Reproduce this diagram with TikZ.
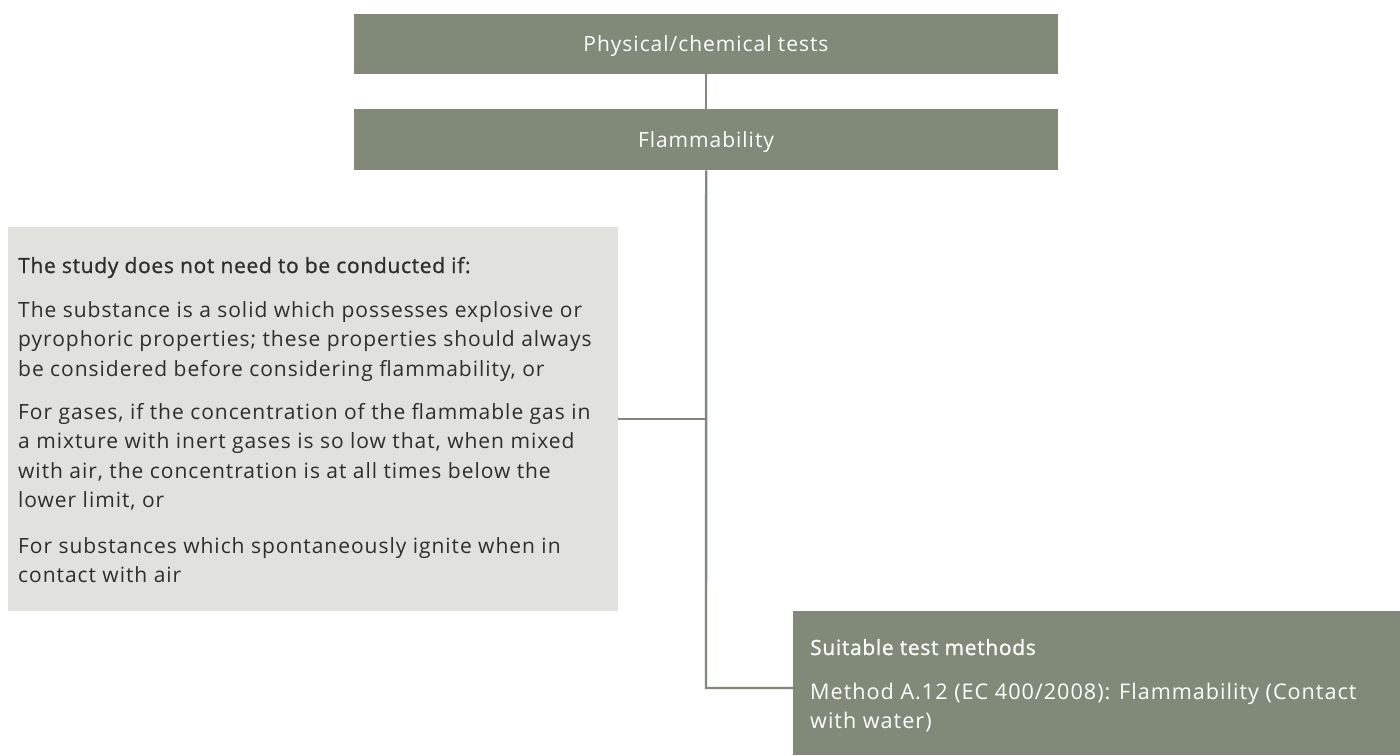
\documentclass[tikz,border=0pt]{standalone}
\usepackage{fontspec}
\setmainfont{Open Sans}[LetterSpace=4.6]
\newfontface\mediumface{Open Sans}[LetterSpace=3.2,FakeBold=1.0]
\definecolor{sage}{HTML}{818979}
\definecolor{mist}{HTML}{E1E2DE}
\definecolor{ink}{HTML}{2E2E2E}
\begin{document}
\begin{tikzpicture}[x=1pt,y=-1pt,
  darkbox/.style={fill=sage,draw=none,anchor=north west,inner sep=0pt},
  lightbox/.style={fill=mist,draw=none,anchor=north west,inner sep=0pt},
  title/.style={text=white,font=\fontsize{21}{25}\selectfont,anchor=base,inner sep=0pt},
  dline/.style={text=ink,font=\fontsize{21}{25}\selectfont,anchor=base west,inner sep=0pt},
  dhead/.style={dline,font=\fontsize{21}{25}\mediumface},
  wline/.style={dline,text=white,font=\fontsize{21.6}{26}\selectfont},
  whead/.style={dhead,text=white},
  link/.style={draw=sage,line width=2.4pt}]
\useasboundingbox (0,0) rectangle (1400,755);

% main boxes
\node[darkbox,minimum width=704pt,minimum height=60pt] (phys) at (354,14) {};
\node[darkbox,minimum width=704pt,minimum height=61pt] (flam) at (354,109) {};
\node[lightbox,minimum width=610pt,minimum height=384pt] (waive) at (8,227) {};
\node[darkbox,minimum width=607pt,minimum height=144pt] (tests) at (793,611) {};

% connectors
\coordinate (spine) at (706,688);
\coordinate (branch) at (706,419);
\draw[link] (phys.south) -- (flam.north);
\draw[link] (flam.south) -- (spine) -- (tests.west |- spine);
\draw[link] (waive.east |- branch) -- (branch);

% titles
\node[title] (tphys) at (706,51) {Physical/chemical tests};
\node[title] (tflam) at (706,147) {Flammability};

% waiving conditions
\node[dhead] (w0) at (18,273) {The study does not need to be conducted if:};
\node[dline] (w1) at (18,317) {The substance is a solid which possesses explosive or};
\node[dline] (w2) at (18,346) {pyrophoric properties; these properties should always};
\node[dline] (w3) at (18,376) {be considered before considering flammability, or};
\node[dline] (w4) at (18,419) {For gases, if the concentration of the flammable gas in};
\node[dline] (w5) at (18,448) {a mixture with inert gases is so low that, when mixed};
\node[dline] (w6) at (18,478) {with air, the concentration is at all times below the};
\node[dline] (w7) at (18,507) {lower limit, or};
\node[dline] (w8) at (18,553) {For substances which spontaneously ignite when in};
\node[dline] (w9) at (18,582) {contact with air};

% test methods
\node[whead] (m0) at (810,655) {Suitable test methods};
\node[wline] (m1) at (810,699) {Method A.12 (EC 400/2008): Flammability (Contact};
\node[wline] (m2) at (810,728) {with water)};
\end{tikzpicture}
\end{document}
